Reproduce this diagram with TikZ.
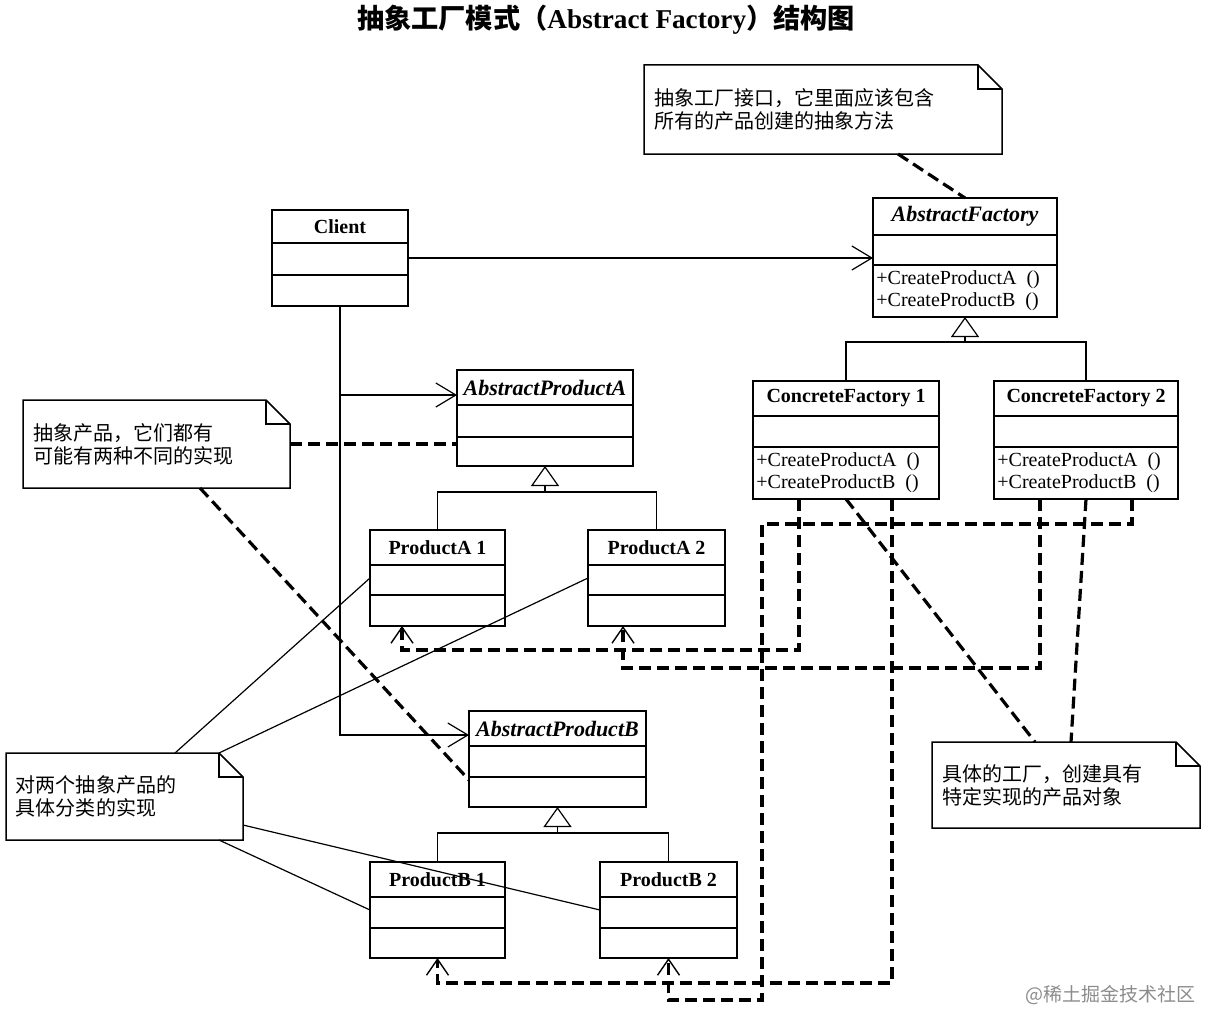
\documentclass[tikz,border=0pt]{standalone}
\usepackage{fontspec}
\setmainfont{Liberation Serif}
\newfontfamily\cjk{Noto Sans CJK SC}
\usetikzlibrary{arrows.meta}

\newcommand{\pxu}{0.5pt}
\newcommand{\italname}{\fontsize{11}{13}\selectfont\itshape}
% class box: name, left, top, width, height, first rule, second rule, title
\newcommand{\umlclass}[8]{%
  \node[classbox, minimum width=#4*\pxu, minimum height=#5*\pxu] (#1) at (#2,#3) {};
  \draw[line width=0.75pt] ([yshift=-#6*\pxu]#1.north west) -- ([yshift=-#6*\pxu]#1.north east);
  \draw[line width=0.75pt] ([yshift=-#7*\pxu]#1.north west) -- ([yshift=-#7*\pxu]#1.north east);
  \node[classname] (#1-t) at ([yshift=-#6*\pxu/2]#1.north) {#8};
}

\begin{document}
\begin{tikzpicture}[x=0.5pt,y=-0.5pt,
  classbox/.style={draw,line width=0.75pt,anchor=north west,inner sep=0pt,outer sep=0pt},
  classname/.style={font=\fontsize{10}{12}\selectfont\bfseries,inner sep=0pt},
  methods/.style={font=\fontsize{10}{11}\selectfont,align=left,anchor=west,inner sep=1.5pt},
  notebox/.style={anchor=north west,align=left,inner xsep=5pt,inner ysep=0pt,outer sep=0pt,
    font=\cjk\fontsize{10}{11.5}\selectfont},
  assoc/.style={line width=0.6pt,-{Straight Barb[length=10pt,width=12pt]}},
  realize/.style={line width=0.6pt},
  inherit/.style={line width=0.6pt,-{Triangle[open,length=10pt,width=14pt]}},
  dep/.style={line width=1.6pt,dash pattern=on 6pt off 3pt,
    -{Straight Barb[length=8pt,width=11pt,line width=0.7pt]}},
  noteline/.style={line width=1.6pt,dash pattern=on 6pt off 3pt}]
  %
  % Page
  \fill[white] (0,0) rectangle (1208,1011);
  \useasboundingbox (0,0) rectangle (1208,1011);
  \node[font=\fontsize{13.6}{15}\selectfont] (title) at (606,20)
    {{\cjk\bfseries 抽象工厂模式（}\textbf{Abstract Factory}{\cjk\bfseries ）结构图}};
  %
  % Classes
  \umlclass{client}{272}{210}{136}{96}{33}{65}{Client}
  \umlclass{af}{873}{198}{184}{119}{37}{67}{\italname AbstractFactory}
  \umlclass{cf1}{753}{381}{186}{118}{35}{66}{ConcreteFactory 1}
  \umlclass{cf2}{994}{381}{184}{118}{35}{66}{ConcreteFactory 2}
  \umlclass{apa}{457}{370}{176}{96}{35}{67}{\italname AbstractProductA}
  \umlclass{pa1}{370}{530}{135}{96}{35}{65}{ProductA 1}
  \umlclass{pa2}{588}{530}{137}{96}{35}{65}{ProductA 2}
  \umlclass{apb}{469}{711}{177}{96}{35}{66}{\italname AbstractProductB}
  \umlclass{pb1}{370}{862}{135}{96}{35}{66}{ProductB 1}
  \umlclass{pb2}{600}{862}{137}{96}{35}{66}{ProductB 2}
  \foreach \c in {af,cf1,cf2}
    \node[methods] (\c-m) at ([yshift=13pt]\c.south west)
      {+CreateProductA\enspace()\\+CreateProductB\enspace()};
  %
  % Notes
  \node[notebox,text width=169pt,minimum height=44.5pt] (n1) at (644,65)
    {抽象工厂接口，它里面应该包含\\所有的产品创建的抽象方法};
  \node[notebox,text width=123.5pt,minimum height=44pt] (n2) at (23,400)
    {抽象产品，它们都有\\可能有两种不同的实现};
  \node[notebox,text width=108.5pt,minimum height=43.5pt] (n3) at (6,753)
    {对两个抽象产品的\\具体分类的实现};
  \node[notebox,text width=124pt,minimum height=43pt] (n4) at (932,742)
    {具体的工厂，创建具有\\特定实现的产品对象};
  \foreach \n in {n1,n2,n3,n4}{
    \draw[line width=0.75pt] (\n.north west) -- ([xshift=-12pt]\n.north east)
      -- ([yshift=-12pt]\n.north east) -- (\n.south east) -- (\n.south west) -- cycle;
    \draw[line width=0.75pt] ([xshift=-12pt]\n.north east) |- ([yshift=-12pt]\n.north east);
  }
  %
  % Associations
  \draw[assoc] (client.east) -- (client.east -| af.west);
  \draw[assoc] (client.south) |- ([yshift=-12.5pt]apa.north west);
  \draw[assoc] (client.south) |- ([yshift=-12pt]apb.north west);
  %
  % Inheritance
  \coordinate (afbar) at ([yshift=-12.5pt]af.south);
  \coordinate (apabar) at ([yshift=-13pt]apa.south);
  \coordinate (apbbar) at ([yshift=-13pt]apb.south);
  \draw[inherit] (afbar) -- (af.south);
  \draw[inherit] (apabar) -- (apa.south);
  \draw[inherit] (apbbar) -- (apb.south);
  \draw[realize] (cf1.north) |- (afbar) -| (cf2.north);
  \draw[realize] (pa1.north) |- (apabar) -| (pa2.north);
  \draw[realize] (pb1.north) |- (apbbar) -| (pb2.north);
  %
  % Dependencies
  \draw[dep] ([xshift=23pt]cf1.south west) |- ([xshift=16pt,yshift=-12pt]pa1.south west)
    -- ([xshift=16pt]pa1.south west);
  \draw[dep] ([xshift=23pt]cf2.south west) |- ([xshift=17.5pt,yshift=-21pt]pa2.south west)
    -- ([xshift=17.5pt]pa2.south west);
  \draw[dep] ([xshift=69.5pt]cf1.south west) |- ([yshift=-12.5pt]pb1.south) -- (pb1.south);
  \draw[dep] ([xshift=69pt]cf2.south west) |- ([xshift=4.5pt,yshift=-12.5pt]cf1.south west)
    |- ([yshift=-21pt]pb2.south) -- (pb2.south);
  %
  % Note links
  \draw[noteline] ([xshift=127pt]n1.south west) -- (af.north);
  \draw[noteline] (n2.east) -- (n2.east -| apa.west);
  \draw[noteline] ([xshift=88.5pt]n2.south west) -- ([yshift=-34.5pt]apb.north west);
  \draw[noteline] (cf1.south) -- ([xshift=51.5pt]n4.north west);
  \draw[noteline] (cf2.south) -- ([xshift=69.5pt]n4.north west);
  \draw[realize] ([xshift=84.5pt]n3.north west) -- (pa1.west);
  \draw[realize] ([xshift=-12pt]n3.north east) -- (pa2.west);
  \draw[realize] ([yshift=7.5pt]n3.south east) -- (pb2.west);
  \draw[realize] ([xshift=-12pt]n3.south east) -- (pb1.west);
  %
  % Watermark
  \node[font=\cjk\fontsize{9.5}{11}\selectfont,text=black!45,anchor=east] (mark) at (1203,995)
    {@稀土掘金技术社区};
  %
\end{tikzpicture}
\end{document}
